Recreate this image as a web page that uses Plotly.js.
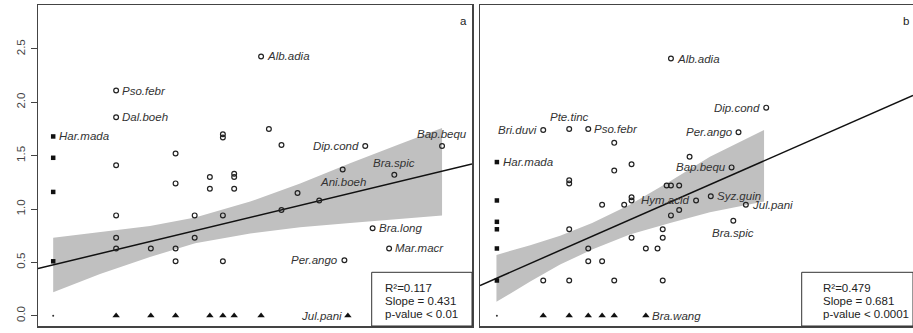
<!DOCTYPE html>
<html>
<head>
<meta charset="utf-8">
<script src="https://cdn.plot.ly/plotly-3.0.1.min.js"></script>
<style>html,body{margin:0;padding:0;background:#fff;}#chart{width:913px;height:333px;}</style>
</head>
<body>
<div id="chart"></div>
<script>
// ---------- DATA ----------
// Panel a
const aCircX = [1.80,1.80,1.80,1.80,1.80,1.80,2.60,3.17,3.17,3.17,3.17,3.61,3.61,3.96,3.96,4.26,4.26,4.26,4.26,4.52,4.52,4.52,5.14,5.32,5.61,5.61,5.98,6.48,7.02,7.06,7.54,7.71,8.09,8.21,9.31];
const aCircY = [2.11,1.86,1.41,0.94,0.73,0.63,0.63,1.52,1.24,0.63,0.51,0.94,0.73,1.30,1.19,1.70,1.67,0.94,0.51,1.33,1.30,1.19,2.43,1.75,1.60,0.99,1.15,1.08,1.37,0.52,1.59,0.82,0.63,1.32,1.59];
const aCircName = ["Pso.febr","Dal.boeh","","","","","","","","","","","","","","","","","","","","","Alb.adia","","","","","","Ani.boeh","Per.ango","Dip.cond","Bra.long","Mar.macr","Bra.spic","Bap.bequ"];
const aSqX = [0.35,0.35,0.35,0.35];
const aSqY = [1.68,1.48,1.16,0.51];
const aSqName = ["Har.mada","","",""];
const aDotX = [0.35];
const aDotY = [0.00];
const aTriX = [1.80,2.60,3.17,3.96,4.26,4.52,5.14,7.14];
const aTriY = [0,0,0,0,0,0,0,0];
const aTriName = ["","","","","","","","Jul.pani"];
const aFit = {intercept: 0.442, slope: 0.0981};
const aBandX = [0.35,1.43,2.58,3.62,4.89,6.04,7.19,8.34,9.31];
const aBandUp = [0.73,0.78,0.84,0.92,1.07,1.24,1.43,1.61,1.76];
const aBandLo = [0.22,0.39,0.55,0.68,0.77,0.83,0.87,0.91,0.94];
const aStats = ["R\u00b2=0.117","Slope = 0.431","p-value < 0.01"];

// Panel b
const bCircX = [1.46,1.46,2.06,2.06,2.06,2.06,2.06,2.50,2.50,2.50,2.82,2.82,3.10,3.10,3.10,3.33,3.50,3.50,3.50,3.50,3.83,4.10,4.22,4.22,4.22,4.31,4.41,4.60,4.41,4.60,4.84,4.41,4.99,5.33,5.81,5.85,5.97,6.14,6.61];
const bCircY = [1.74,0.33,1.75,1.27,1.24,0.81,0.33,1.75,0.63,0.51,1.04,0.51,1.62,1.36,0.33,1.04,1.42,1.11,1.08,0.73,0.63,0.63,0.81,0.73,0.33,1.22,1.22,1.22,0.94,0.99,1.49,2.41,1.08,1.12,1.39,0.89,1.72,1.04,1.95];
const bCircName = ["Bri.duvi","","Pte.tinc","","","","","Pso.febr","","","","","","","","","","","","","","","","","","","","","","","","Alb.adia","Hym.acid","Syz.guin","Bap.bequ","Bra.spic","Per.ango","Jul.pani","Dip.cond"];
const bSqX = [0.39,0.39,0.39,0.39,0.39,0.39];
const bSqY = [1.44,1.08,0.88,0.81,0.63,0.33];
const bSqName = ["Har.mada","","","","",""];
const bDotX = [0.39];
const bDotY = [0.00];
const bTriX = [1.46,2.06,2.50,2.82,3.10,3.83];
const bTriY = [0,0,0,0,0,0];
const bTriName = ["","","","","","Bra.wang"];
const bFit = {intercept: 0.283, slope: 0.1781};
const bBandX = [0.38,1.16,1.85,2.59,3.46,4.39,5.31,6.56];
const bBandUp = [0.57,0.66,0.75,0.87,1.04,1.26,1.49,1.74];
const bBandLo = [0.13,0.32,0.48,0.62,0.76,0.87,0.97,1.07];
const bStats = ["R\u00b2=0.479","Slope = 0.681","p-value < 0.0001"];

const yTicks = [0,0.5,1.0,1.5,2.0,2.5];
const yTickText = ["0.0","0.5","1.0","1.5","2.0","2.5"];

// ---------- label placement (layout) ----------
const labelPosA = {"Pso.febr":"r","Dal.boeh":"r","Har.mada":"r","Alb.adia":"r","Ani.boeh":"b","Per.ango":"l","Dip.cond":"l","Bra.long":"r","Mar.macr":"r","Bra.spic":"t","Bap.bequ":"t","Jul.pani":"l"};
const labelPosB = {"Har.mada":"r","Bri.duvi":"l","Pte.tinc":"t","Pso.febr":"r","Alb.adia":"r","Hym.acid":"l","Syz.guin":"r","Bap.bequ":"l","Bra.spic":"b","Per.ango":"l","Jul.pani":"r","Dip.cond":"l","Bra.wang":"r"};

// ---------- layout geometry ----------
const W = 913, H = 333;
const XR = [0, 10];
const YR = [-0.0965, 2.912];
const FONT = "Liberation Sans, Arial, sans-serif";
const INK = "#222";
const FRAME = "#444";

function traces(circX, circY, sqX, sqY, dotX, dotY, triX, triY, fit, bx, bu, bl, xa, ya) {
  const polyX = bx.concat(bx.slice().reverse());
  const polyY = bu.concat(bl.slice().reverse());
  return [
    {x: polyX, y: polyY, xaxis: xa, yaxis: ya, type: "scatter", mode: "lines", fill: "toself",
     fillcolor: "rgb(192,192,192)", line: {width: 0}, hoverinfo: "skip"},
    {x: XR, y: XR.map(v => fit.intercept + fit.slope * v), xaxis: xa, yaxis: ya, type: "scatter",
     mode: "lines", line: {color: "#111", width: 1.5}},
    {x: circX, y: circY, xaxis: xa, yaxis: ya, type: "scatter", mode: "markers",
     marker: {symbol: "circle-open", size: 4.8, color: INK, line: {width: 1.2, color: INK}}},
    {x: sqX, y: sqY, xaxis: xa, yaxis: ya, type: "scatter", mode: "markers",
     marker: {symbol: "square", size: 4.5, color: "#111"}},
    {x: dotX, y: dotY, xaxis: xa, yaxis: ya, type: "scatter", mode: "markers",
     marker: {symbol: "circle", size: 2, color: "#333"}},
    {x: triX, y: triY, xaxis: xa, yaxis: ya, type: "scatter", mode: "markers",
     marker: {symbol: "triangle-up", size: 6.5, color: "#111"}}
  ];
}

function labels(xs, ys, names, posMap, xa, ya) {
  const out = [];
  names.forEach((n, i) => {
    if (!n) return;
    const p = posMap[n] || "r";
    const a = {x: xs[i], y: ys[i], xref: xa, yref: ya, text: "<i>" + n + "</i>", showarrow: false,
      font: {family: FONT, size: 11.5, color: "#333"}, xanchor: "center", yanchor: "middle", xshift: 0, yshift: 0};
    if (p === "r") { a.xanchor = "left"; a.xshift = 4; }
    if (p === "l") { a.xanchor = "right"; a.xshift = -4; }
    if (p === "t") { a.yshift = 12; }
    if (p === "b") { a.yshift = -12; }
    out.push(a);
  });
  return out;
}

const data = [].concat(
  traces(aCircX, aCircY, aSqX, aSqY, aDotX, aDotY, aTriX, aTriY, aFit, aBandX, aBandUp, aBandLo, "x", "y"),
  traces(bCircX, bCircY, bSqX, bSqY, bDotX, bDotY, bTriX, bTriY, bFit, bBandX, bBandUp, bBandLo, "x2", "y2")
);

const ann = [].concat(
  labels(aCircX, aCircY, aCircName, labelPosA, "x", "y"),
  labels(aSqX, aSqY, aSqName, labelPosA, "x", "y"),
  labels(aTriX, aTriY, aTriName, labelPosA, "x", "y"),
  labels(bCircX, bCircY, bCircName, labelPosB, "x2", "y2"),
  labels(bSqX, bSqY, bSqName, labelPosB, "x2", "y2"),
  labels(bTriX, bTriY, bTriName, labelPosB, "x2", "y2")
);

const statRowsPy = [287.7, 301, 314.3];
function statAnn(lines, pxLeft) {
  return lines.map((t, i) => ({x: pxLeft / W, y: 1 - statRowsPy[i] / H, xref: "paper", yref: "paper",
    text: t, showarrow: false, xanchor: "left", yanchor: "middle",
    font: {family: FONT, size: 11.5, color: "#222"}}));
}
ann.push(...statAnn(aStats, 383));
ann.push(...statAnn(bStats, 820.5));
ann.push({x: 463 / W, y: 1 - 21 / H, xref: "paper", yref: "paper", text: "a", showarrow: false,
  xanchor: "center", yanchor: "middle", font: {family: FONT, size: 11.5, color: "#222"}});
ann.push({x: 906 / W, y: 1 - 21 / H, xref: "paper", yref: "paper", text: "b", showarrow: false,
  xanchor: "center", yanchor: "middle", font: {family: FONT, size: 11.5, color: "#222"}});

const shapes = [
  {type: "rect", xref: "paper", yref: "paper", x0: 371.7 / W, x1: 472 / W, y0: 1 - 326 / H, y1: 1 - 272.3 / H,
   line: {color: "#333", width: 1}, fillcolor: "#fff", layer: "above"},
  {type: "rect", xref: "paper", yref: "paper", x0: 801.7 / W, x1: 913 / W, y0: 1 - 326 / H, y1: 1 - 272.3 / H,
   line: {color: "#333", width: 1}, fillcolor: "#fff", layer: "above"}
];

const axBase = {showgrid: false, zeroline: false, showline: true, mirror: true, linecolor: FRAME, linewidth: 1.5};
const yDom = [1 - 326 / H, 1 - 5 / H];
const layout = {
  width: W, height: H, margin: {l: 0, r: 0, t: 0, b: 0}, showlegend: false,
  paper_bgcolor: "#fff", plot_bgcolor: "#fff",
  xaxis: Object.assign({}, axBase, {domain: [38 / W, 472 / W], range: XR, showticklabels: false, ticks: ""}),
  yaxis: Object.assign({}, axBase, {domain: yDom, range: YR, tickvals: yTicks, ticktext: yTickText,
    ticks: "outside", ticklen: 6, tickcolor: FRAME, tickwidth: 1, tickangle: -90, ticklabelstandoff: 1,
    tickfont: {family: FONT, size: 11.5, color: "#444"}}),
  xaxis2: Object.assign({}, axBase, {domain: [480 / W, 1], range: XR, showticklabels: false, ticks: "", anchor: "y2"}),
  yaxis2: Object.assign({}, axBase, {domain: yDom, range: YR, showticklabels: false, ticks: "", anchor: "x2"}),
  annotations: ann, shapes: shapes
};

Plotly.newPlot("chart", data, layout, {displayModeBar: false, staticPlot: true});
</script>
</body>
</html>
